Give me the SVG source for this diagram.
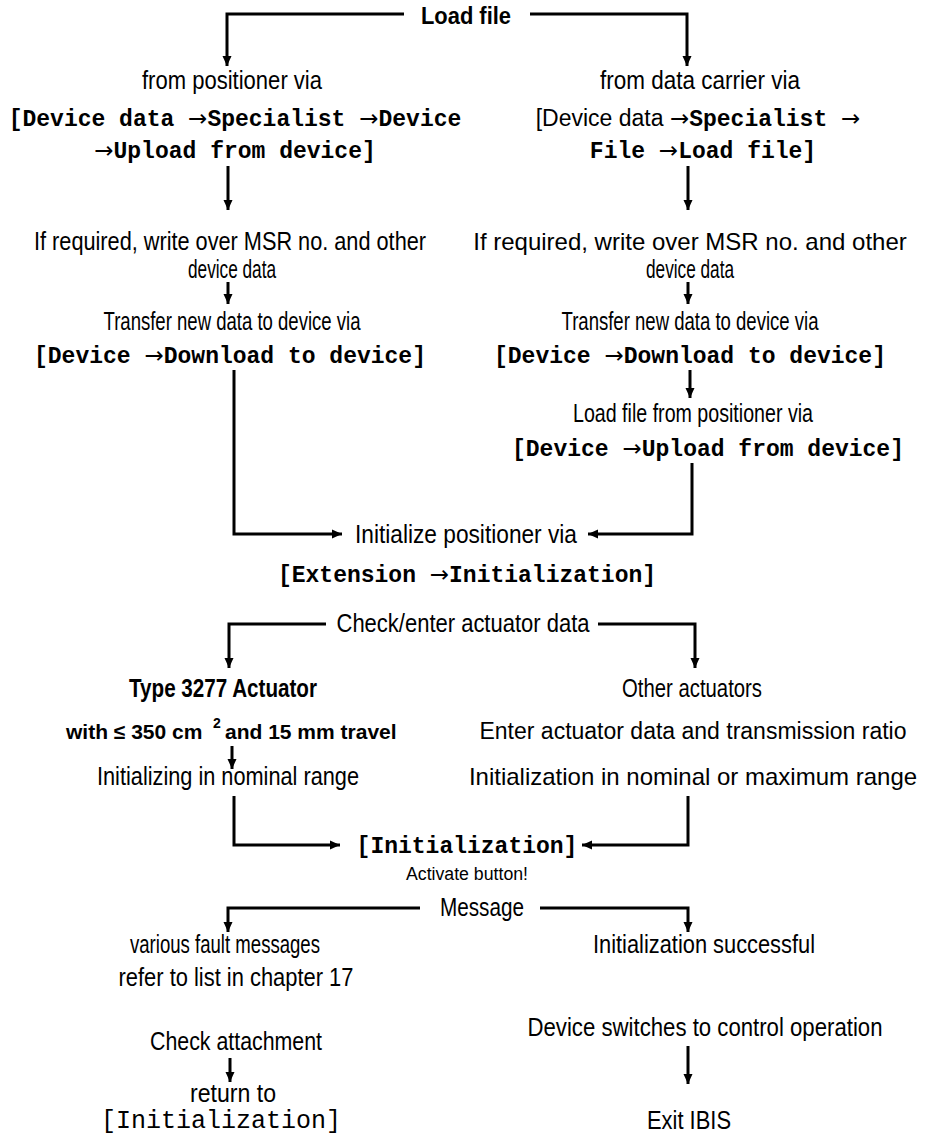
<svg xmlns="http://www.w3.org/2000/svg" width="931" height="1136" viewBox="0 0 931 1136">
<defs>
<style>
.t{font-family:"Liberation Sans",Arial,sans-serif;font-size:25px;fill:#000;text-anchor:middle}
.st{text-anchor:start}
.b{font-weight:bold}
.s{font-size:18px}
.n24{font-size:24px}
.n23{font-size:23px}
.n21{font-size:21px}
.sup{font-size:14px}
.m{font-family:"Liberation Mono","Courier New",monospace;font-weight:bold;font-size:23px;fill:#000;text-anchor:middle}
.mr{font-weight:normal;font-size:25px}
.ar{font-family:"DejaVu Sans","Liberation Sans",sans-serif;font-weight:normal}
.sn{font-family:"Liberation Sans",Arial,sans-serif;font-weight:normal;font-size:23px}
.c{fill:none;stroke:#000;stroke-width:3;marker-end:url(#ah)}
</style>
<marker id="ah" markerUnits="userSpaceOnUse" markerWidth="10" markerHeight="10" refX="10" refY="5" orient="auto">
<path d="M0,0.5 L10,5 L0,9.5 z" fill="#000"/>
</marker>
</defs>
<rect width="931" height="1136" fill="#fff"/>
<g id="connectors">
<path class="c" d="M404,14 H227 V66"/>
<path class="c" d="M530,14 H687 V66"/>
<path class="c" d="M228,166 V210"/>
<path class="c" d="M688,166 V210"/>
<path class="c" d="M228,282 V304"/>
<path class="c" d="M688,282 V304"/>
<path class="c" d="M234,370 V534 H342"/>
<path class="c" d="M690,370 V398"/>
<path class="c" d="M692,463 V534 H588"/>
<path class="c" d="M326,624 H229 V668"/>
<path class="c" d="M598,624 H695 V668"/>
<path class="c" d="M232,746 V769"/>
<path class="c" d="M234,796 V845 H340"/>
<path class="c" d="M688,796 V845 H582"/>
<path class="c" d="M420,908 H228 V932"/>
<path class="c" d="M540,908 H688 V932"/>
<path class="c" d="M230,1058 V1082"/>
<path class="c" d="M688,1046 V1084"/>
</g>
<g id="n-loadfile"><text class="t b n24" x="466" y="24" textLength="90" lengthAdjust="spacingAndGlyphs">Load file</text></g>
<g id="n-frompositioner">
<text class="t" x="232" y="89" textLength="180" lengthAdjust="spacingAndGlyphs">from positioner via</text>
<text class="m" x="235" y="126">[Device data <tspan class="ar">→</tspan>Specialist <tspan class="ar">→</tspan>Device</text>
<text class="m" x="235" y="158"><tspan class="ar">→</tspan>Upload from device]</text>
</g>
<g id="n-fromcarrier">
<text class="t" x="700" y="89" textLength="200" lengthAdjust="spacingAndGlyphs">from data carrier via</text>
<text class="m" x="698" y="126"><tspan class="sn">[Device data </tspan><tspan class="ar">→</tspan>Specialist <tspan class="ar">→</tspan></text>
<text class="m" x="703" y="158">File <tspan class="ar">→</tspan>Load file]</text>
</g>
<g id="n-writeover-l">
<text class="t" x="230" y="250" textLength="392" lengthAdjust="spacingAndGlyphs">If required, write over MSR no. and other</text>
<text class="t" x="232" y="278" textLength="88" lengthAdjust="spacingAndGlyphs">device data</text>
</g>
<g id="n-writeover-r">
<text class="t n24" x="690" y="250">If required, write over MSR no. and other</text>
<text class="t" x="690" y="278" textLength="88" lengthAdjust="spacingAndGlyphs">device data</text>
</g>
<g id="n-transfer-l">
<text class="t" x="232" y="330" textLength="257" lengthAdjust="spacingAndGlyphs">Transfer new data to device via</text>
<text class="m" x="230" y="363">[Device <tspan class="ar">→</tspan>Download to device]</text>
</g>
<g id="n-transfer-r">
<text class="t" x="690" y="330" textLength="257" lengthAdjust="spacingAndGlyphs">Transfer new data to device via</text>
<text class="m" x="690" y="363">[Device <tspan class="ar">→</tspan>Download to device]</text>
</g>
<g id="n-loadfromdev">
<text class="t" x="693" y="422" textLength="240" lengthAdjust="spacingAndGlyphs">Load file from positioner via</text>
<text class="m" x="708" y="456">[Device <tspan class="ar">→</tspan>Upload from device]</text>
</g>
<g id="n-initialize">
<text class="t" x="466" y="543" textLength="222" lengthAdjust="spacingAndGlyphs">Initialize positioner via</text>
<text class="m" x="467" y="582">[Extension <tspan class="ar">→</tspan>Initialization]</text>
</g>
<g id="n-check"><text class="t" x="463" y="632" textLength="253" lengthAdjust="spacingAndGlyphs">Check/enter actuator data</text></g>
<g id="n-type3277">
<text class="t b" x="223" y="697" textLength="188" lengthAdjust="spacingAndGlyphs">Type 3277 Actuator</text>
<text class="t b st n21" x="66" y="739">with ≤ 350 cm</text>
<text class="t b st sup" x="213" y="728">2</text>
<text class="t b st n21" x="225" y="739">and 15 mm travel</text>
</g>
<g id="n-initnominal"><text class="t" x="228" y="785" textLength="262" lengthAdjust="spacingAndGlyphs">Initializing in nominal range</text></g>
<g id="n-other">
<text class="t" x="692" y="697" textLength="140" lengthAdjust="spacingAndGlyphs">Other actuators</text>
<text class="t n23" x="693" y="739">Enter actuator data and transmission ratio</text>
</g>
<g id="n-initmax"><text class="t n24" x="693" y="785">Initialization in nominal or maximum range</text></g>
<g id="n-initbtn">
<text class="m" x="467" y="853">[Initialization]</text>
<text class="t s" x="467" y="880" textLength="122" lengthAdjust="spacingAndGlyphs">Activate button!</text>
</g>
<g id="n-message"><text class="t" x="482" y="916" textLength="84" lengthAdjust="spacingAndGlyphs">Message</text></g>
<g id="n-fault">
<text class="t" x="225" y="953" textLength="190" lengthAdjust="spacingAndGlyphs">various fault messages</text>
<text class="t" x="236" y="986" textLength="235" lengthAdjust="spacingAndGlyphs">refer to list in chapter 17</text>
</g>
<g id="n-success"><text class="t" x="704" y="953" textLength="222" lengthAdjust="spacingAndGlyphs">Initialization successful</text></g>
<g id="n-control"><text class="t" x="705" y="1036" textLength="355" lengthAdjust="spacingAndGlyphs">Device switches to  control operation</text></g>
<g id="n-attach"><text class="t" x="236" y="1050" textLength="172" lengthAdjust="spacingAndGlyphs">Check attachment</text></g>
<g id="n-return">
<text class="t" x="233" y="1102" textLength="86" lengthAdjust="spacingAndGlyphs">return to</text>
<text class="m mr" x="221" y="1128">[Initialization]</text>
</g>
<g id="n-exit"><text class="t" x="689" y="1129" textLength="84" lengthAdjust="spacingAndGlyphs">Exit IBIS</text></g>
</svg>
